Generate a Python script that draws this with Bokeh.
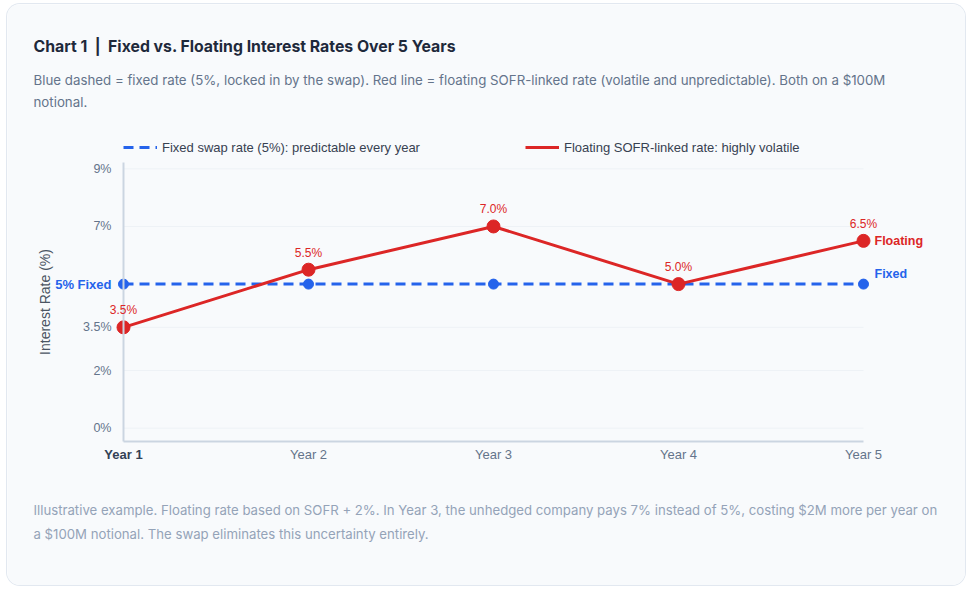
from bokeh.plotting import figure
from bokeh.models import (Label, LabelSet, Legend, LegendItem, FixedTicker,
                          Range1d, ColumnDataSource)
from bokeh.core.properties import value
from bokeh.embed import file_html
from bokeh.resources import INLINE

# ---- data -------------------------------------------------------------
years = ["Year 1", "Year 2", "Year 3", "Year 4", "Year 5"]
fixed_rate = [5.0, 5.0, 5.0, 5.0, 5.0]
floating_rate = [3.5, 5.5, 7.0, 5.0, 6.5]
y_ticks = [0, 2, 3.5, 7, 9]
y_tick_labels = ["0%", "2%", "3.5%", "7%", "9%"]

title = "Chart 1\u00a0\u00a0|\u00a0\u00a0Fixed vs. Floating Interest Rates Over 5 Years"
subtitle_lines = [
    "Blue dashed = fixed rate (5%, locked in by the swap). Red line = floating SOFR-linked "
    "rate (volatile and unpredictable). Both on a $100M",
    "notional.",
]
footnote_lines = [
    "Illustrative example. Floating rate based on SOFR + 2%. In Year 3, the unhedged company "
    "pays 7% instead of 5%, costing $2M more per year on",
    "a $100M notional. The swap eliminates this uncertainty entirely.",
]
fixed_legend = "Fixed swap rate (5%): predictable every year"
float_legend = "Floating SOFR-linked rate: highly volatile"

BLUE = "#2563eb"
RED = "#dc2626"
CARD = "#f8fafc"
AXIS_FONT = "Liberation Sans"
TEXT_FONT = "Inter"

# ---- canvas geometry (the plotting frame fills the whole card) ------------
W, H = 958, 581
X_PX = 185.0          # pixels per year step
Y_PX = 28.82          # pixels per percentage point
X0_PX, Y0_PX = 116.0, 423.7   # screen position of (Year 1, 0%) inside the card
Y_AXIS_MIN, Y_AXIS_MAX = -0.46, 9.23

x = list(range(len(years)))
x_range = Range1d(-X0_PX / X_PX, (W - X0_PX) / X_PX)
y_range = Range1d(-(H - Y0_PX) / Y_PX, Y0_PX / Y_PX)

p = figure(width=W, height=H, x_range=x_range, y_range=y_range,
           output_backend="svg", toolbar_location=None,
           min_border=0, min_border_left=0, min_border_right=0,
           min_border_top=0, min_border_bottom=0,
           background_fill_color=CARD, border_fill_color=CARD,
           outline_line_color=None)
p.styles = {"position": "absolute", "left": "7px", "top": "4px",
            "border-radius": "13px", "overflow": "hidden",
            "box-shadow": "0 0 0 1px #e2e8f0"}

# faint horizontal guides at each y tick, spanning the year axis
p.xgrid.grid_line_color = None
p.ygrid.grid_line_color = None
p.segment(x0=[x[0]] * len(y_ticks), x1=[x[-1]] * len(y_ticks),
          y0=y_ticks, y1=y_ticks, line_color="#eef2f6", line_width=1)

fixed_r = p.line(x, fixed_rate, line_color=BLUE, line_width=3, line_dash="10 6")
p.scatter(x, fixed_rate, size=10, color=BLUE)
float_r = p.line(x, floating_rate, line_color=RED, line_width=3)
p.scatter(x, floating_rate, size=13, color=RED)

# value labels above the floating-rate markers
src = ColumnDataSource(dict(x=x, y=floating_rate,
                            t=[f"{v:.1f}%" for v in floating_rate]))
p.add_layout(LabelSet(x="x", y="y", text="t", source=src, y_offset=17,
                      text_align="center", text_baseline="middle",
                      text_font=value(AXIS_FONT), text_font_size="12px", text_color=RED))

# end-of-line series tags
p.add_layout(Label(x=x[-1], y=floating_rate[-1], x_offset=11, text="Floating",
                   text_baseline="middle", text_font=AXIS_FONT, text_font_size="12.5px",
                   text_font_style="bold", text_color=RED))
p.add_layout(Label(x=x[-1], y=fixed_rate[-1], x_offset=11, y_offset=10, text="Fixed",
                   text_baseline="middle", text_font=AXIS_FONT, text_font_size="12.5px",
                   text_font_style="bold", text_color=BLUE))
# highlighted fixed level on the y axis
p.add_layout(Label(x=x[0], y=fixed_rate[0], x_offset=-12, text=f"{fixed_rate[0]:g}% Fixed",
                   text_align="right", text_baseline="middle", text_font=AXIS_FONT,
                   text_font_size="13px", text_font_style="bold", text_color=BLUE))
# first year in bold
p.add_layout(Label(x=x[0], y=Y_AXIS_MIN, y_offset=-13, text=years[0], text_align="center",
                   text_baseline="middle", text_font=AXIS_FONT, text_font_size="13px",
                   text_font_style="bold", text_color="#334155"))

# heading and footnote, in screen pixels from the card's lower-left corner
def screen_text(txt, vx, vy, size, color, style="normal"):
    p.add_layout(Label(x=vx, y=vy, x_units="screen", y_units="screen", text=txt,
                       text_baseline="middle", text_font=TEXT_FONT,
                       text_font_size=size, text_font_style=style, text_color=color))

screen_text(title, 26, H - 42, "15.8px", "#1e293b", "bold")
for i, line in enumerate(subtitle_lines):
    screen_text(line, 26, H - 75 - 22 * i, "13.3px", "#64748b")
for i, line in enumerate(footnote_lines):
    screen_text(line, 26, H - 505 - 24 * i, "13.2px", "#94a3b8")

# axes, pinned to the year-1 / bottom positions
p.xaxis.ticker = FixedTicker(ticks=x[1:])
p.xaxis.major_label_overrides = {i: years[i] for i in x[1:]}
p.xaxis.fixed_location = Y_AXIS_MIN
p.xaxis.bounds = (x[0], x[-1])
p.yaxis.ticker = FixedTicker(ticks=y_ticks)
p.yaxis.major_label_overrides = dict(zip(y_ticks, y_tick_labels))
p.yaxis.fixed_location = x[0]
p.yaxis.bounds = (Y_AXIS_MIN, Y_AXIS_MAX)
p.yaxis.axis_label = "Interest Rate (%)"
p.yaxis.axis_label_standoff = 27
p.yaxis.axis_label_text_font = AXIS_FONT
p.yaxis.axis_label_text_font_size = "14px"
p.yaxis.axis_label_text_font_style = "normal"
p.yaxis.axis_label_text_color = "#4b5563"
for ax in (p.xaxis, p.yaxis):
    ax.axis_line_color = "#cbd5e1"
    ax.axis_line_width = 2
    ax.major_tick_line_color = None
    ax.minor_tick_line_color = None
    ax.major_tick_out = 0
    ax.major_tick_in = 0
    ax.major_label_text_font = AXIS_FONT
    ax.major_label_text_color = "#64748b"
p.xaxis.major_label_text_font_size = "13px"
p.yaxis.major_label_text_font_size = "12.5px"
p.xaxis.major_label_standoff = 6
p.yaxis.major_label_standoff = 12

legend = Legend(items=[LegendItem(label=fixed_legend, renderers=[fixed_r]),
                       LegendItem(label=float_legend, renderers=[float_r])],
                orientation="horizontal", location=(116, 424),
                margin=0, padding=1, spacing=105,
                glyph_width=34, glyph_height=20, label_height=28, label_standoff=5,
                label_text_font=AXIS_FONT, label_text_font_size="13px",
                label_text_color="#374151",
                border_line_color=None, background_fill_alpha=0)
p.add_layout(legend, "center")

open("out.html", "w").write(file_html(p, INLINE))
